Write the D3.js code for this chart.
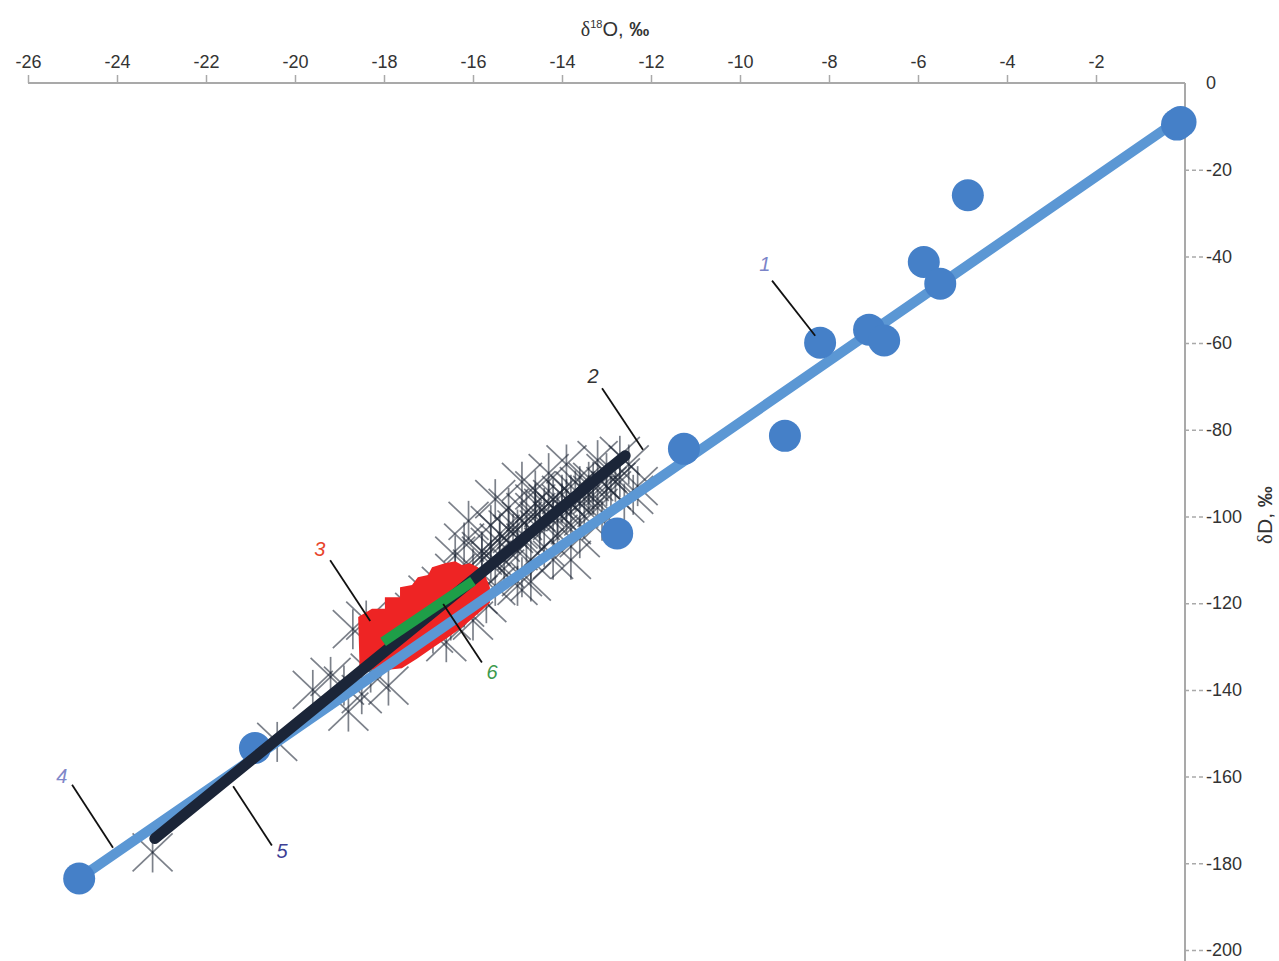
<!DOCTYPE html>
<html lang="en-US">
<head>
    <meta charset="utf-8">
    <script src="https://d3js.org/d3.v7.min.js"></script>
    <style>
        body { margin: 0; background: #fff; }
        .axis text { font-family: "Liberation Sans", Arial, sans-serif; font-size: 18px; fill: #333; }
        .axis path { stroke: #a9a9a9; stroke-width: 2; }
        .axis line { stroke: #a9a9a9; stroke-width: 1.5; }
        .axis--y line { stroke-dasharray: 4, 3; }
        .callout { font-family: "Liberation Sans", Arial, sans-serif; font-size: 20px; font-style: italic; }
    </style>
</head>
<body>
<div id="canvas"></div>
<script>
    // axis ticks
    var xTicks = [-26, -24, -22, -20, -18, -16, -14, -12, -10, -8, -6, -4, -2];
    var yTicks = [0, -20, -40, -60, -80, -100, -120, -140, -160, -180, -200];

    // 1: blue sample points (d18O, dD)
    var pts1 = [
        [-0.18, -9.6], [-0.1, -9.0], [-4.88, -25.9], [-5.87, -41.3], [-5.5, -46.3],
        [-7.1, -56.9], [-6.76, -59.4], [-8.2, -59.9], [-8.99, -81.4],
        [-11.26, -84.4], [-12.76, -103.9], [-20.9, -153.4], [-24.85, -183.5]
    ];

    // 4: regression line of series 1
    var line4 = [[-0.15, -8.5], [-24.85, -183.5]];

    // 2: cloud of points (asterisks)
    var pts2 = [
        [-23.2, -177.5], [-20.4, -152], [-19.6, -140], [-19.2, -137], [-18.9, -139],
        [-18.8, -145], [-18.5, -141], [-18.3, -136], [-17.9, -139], [-18.7, -126],
        [-18.4, -124], [-18.1, -130], [-17.6, -126], [-17.3, -122], [-17.0, -118],
        [-16.7, -116], [-16.4, -113], [-16.9, -127], [-16.5, -124], [-16.2, -121],
        [-15.9, -118], [-16.6, -129], [-16.0, -124], [-15.7, -120], [-15.5, -116],
        [-16.0, -112], [-15.8, -108], [-15.6, -110], [-15.4, -106], [-15.3, -112],
        [-15.1, -104], [-15.0, -108], [-14.9, -101], [-14.8, -106], [-14.7, -110],
        [-14.6, -99], [-14.5, -103], [-14.4, -107], [-14.3, -97], [-14.2, -101],
        [-14.1, -104], [-14.0, -95], [-13.9, -99], [-13.8, -102], [-13.7, -94],
        [-13.6, -97], [-13.5, -100], [-13.4, -92], [-13.3, -95], [-13.2, -98],
        [-13.0, -90], [-12.9, -94], [-12.7, -91], [-12.5, -88], [-12.4, -95],
        [-15.2, -98], [-14.6, -94], [-15.6, -102], [-16.2, -106], [-13.6, -105],
        [-14.9, -114], [-14.2, -110], [-13.1, -101], [-12.6, -97], [-16.4, -109],
        [-15.0, -116], [-14.9, -92], [-14.3, -90], [-13.9, -88], [-13.2, -87],
        [-12.7, -86], [-15.5, -96], [-16.1, -101], [-14.7, -115], [-13.8, -110],
        [-12.3, -93], [-15.2, -103], [-15.0, -103], [-14.8, -99], [-14.6, -97],
        [-14.4, -98], [-14.2, -96], [-14.0, -97], [-13.8, -95], [-13.6, -93],
        [-13.4, -95], [-15.4, -104], [-15.6, -107], [-15.8, -109], [-14.5, -101],
        [-14.1, -99], [-13.9, -96], [-13.3, -92], [-13.0, -93], [-12.8, -92]
    ];

    // 5: regression line of series 2
    var line5 = [[-23.15, -174.3], [-12.58, -86.0]];

    // 3: field outline
    var field3 = [
        [-18.55, -134.6], [-18.58, -123.2], [-18.27, -121.3], [-17.98, -121.3], [-17.98, -118.6],
        [-17.64, -118.6], [-17.64, -116.3], [-17.37, -115.8], [-17.24, -114.0], [-17.01, -113.5],
        [-16.92, -111.7], [-16.63, -110.8], [-16.40, -110.3], [-16.25, -111.2], [-16.07, -110.8],
        [-15.89, -111.7], [-15.73, -113.5], [-15.62, -116.3], [-15.62, -119.9], [-15.80, -121.6],
        [-16.02, -123.6], [-16.25, -125.6], [-16.58, -128.0], [-16.92, -130.4], [-17.26, -132.8],
        [-17.60, -135.0], [-17.95, -135.4], [-18.27, -135.3]
    ];

    // 6: line
    var line6 = [[-18.02, -128.9], [-16.0, -114.9]];

    // callout labels: text, label position, leader start, leader end
    var calloutText = ["1", "2", "3", "6", "4", "5"];
    var calloutPos = [[-9.44, -41.7], [-13.30, -67.7], [-19.44, -107.6], [-15.57, -135.8], [-25.24, -159.9], [-20.29, -177.1]];
    var leaderFrom = [[-9.28, -45.6], [-13.10, -70.4], [-19.21, -110.1], [-15.80, -133.7], [-25.01, -161.9], [-20.52, -175.9]];
    var leaderTo = [[-8.31, -58.3], [-12.18, -84.6], [-18.31, -124.1], [-16.67, -120.2], [-24.09, -176.4], [-21.39, -162.2]];
    var calloutColor = ["#7b84c8", "#333333", "#e8452c", "#3c9a4c", "#7f87c9", "#3d3f94"];

    var svg = d3.select("#canvas")
        .append("svg")
        .attr("width", 1279)
        .attr("height", 961);

    var x = d3.scaleLinear().domain([-26, 0]).range([28, 1185]);
    var y = d3.scaleLinear().domain([0, -200]).range([83, 950]);

    // axes
    svg.append("g")
        .attr("class", "axis axis--x")
        .attr("transform", "translate(0,83)")
        .call(d3.axisTop(x).tickValues(xTicks).tickFormat(function (d) { return String(d); })
            .tickSize(8).tickSizeOuter(0).tickPadding(7))
        .call(function (g) { g.select(".domain").attr("d", "M28,0H1185"); });

    svg.append("g")
        .attr("class", "axis axis--y")
        .attr("transform", "translate(1185,0)")
        .call(d3.axisRight(y).tickValues(yTicks).tickFormat(function (d) { return String(d); })
            .tickSize(18).tickSizeOuter(0).tickPadding(3))
        .call(function (g) {
            g.select(".domain").attr("d", "M0,83V961");
            g.selectAll(".tick").filter(function (d) { return d === 0; }).select("line").remove();
        });

    svg.append("text")
        .attr("x", 615)
        .attr("y", 36)
        .attr("text-anchor", "middle")
        .style("font-family", "'Liberation Sans', Arial, sans-serif")
        .style("font-size", "20px")
        .style("fill", "#333")
        .call(function (t) {
            t.append("tspan").style("font-family", "'Liberation Serif', serif").text("δ");
            t.append("tspan").attr("dy", -8).style("font-size", "11px").text("18");
            t.append("tspan").attr("dy", 8).text("O, ");
            t.append("tspan").style("font-weight", "bold").text("‰");
        });

    svg.append("text")
        .attr("transform", "translate(1272,515) rotate(-90)")
        .attr("text-anchor", "middle")
        .style("font-family", "'Liberation Sans', Arial, sans-serif")
        .style("font-size", "21px")
        .style("fill", "#333")
        .call(function (t) {
            t.append("tspan").style("font-family", "'Liberation Serif', serif").text("δ");
            t.append("tspan").text("D, ");
            t.append("tspan").style("font-weight", "bold").text("‰");
        });

    var line = d3.line().x(function (d) { return x(d[0]); }).y(function (d) { return y(d[1]); });

    // series 2 asterisks
    var star = svg.append("g").selectAll("g")
        .data(pts2)
        .enter().append("g")
        .attr("transform", function (d) { return "translate(" + x(d[0]) + "," + y(d[1]) + ")"; })
        .style("stroke", "#1e2636")
        .style("stroke-opacity", 0.58)
        .style("stroke-width", 1.7);
    star.append("line").attr("x1", 0).attr("y1", -20).attr("x2", 0).attr("y2", 20);
    star.append("line").attr("x1", -20).attr("y1", -19).attr("x2", 20).attr("y2", 19);
    star.append("line").attr("x1", -20).attr("y1", 19).attr("x2", 20).attr("y2", -19);

    // field 3
    svg.append("path")
        .datum(field3)
        .attr("d", line.curve(d3.curveLinearClosed))
        .attr("fill", "#ee2424");
    line.curve(d3.curveLinear);

    // line 4
    svg.append("path")
        .datum(line4)
        .attr("d", line)
        .attr("fill", "none")
        .attr("stroke", "#5b97d4")
        .attr("stroke-width", 10)
        .attr("stroke-linecap", "round");

    // series 1 circles
    svg.append("g").selectAll("circle")
        .data(pts1)
        .enter().append("circle")
        .attr("cx", function (d) { return x(d[0]); })
        .attr("cy", function (d) { return y(d[1]); })
        .attr("r", 16)
        .attr("fill", "#4580c8");

    // line 5
    svg.append("path")
        .datum(line5)
        .attr("d", line)
        .attr("fill", "none")
        .attr("stroke", "#1b2538")
        .attr("stroke-width", 11)
        .attr("stroke-linecap", "round");

    // line 6
    svg.append("path")
        .datum(line6)
        .attr("d", line)
        .attr("fill", "none")
        .attr("stroke", "#1e9e48")
        .attr("stroke-width", 10);

    // callouts
    var co = svg.append("g").selectAll("g")
        .data(calloutText)
        .enter().append("g");
    co.append("line")
        .attr("x1", function (d, i) { return x(leaderFrom[i][0]); })
        .attr("y1", function (d, i) { return y(leaderFrom[i][1]); })
        .attr("x2", function (d, i) { return x(leaderTo[i][0]); })
        .attr("y2", function (d, i) { return y(leaderTo[i][1]); })
        .attr("stroke", "#111")
        .attr("stroke-width", 1.8);
    co.append("text")
        .attr("class", "callout")
        .attr("x", function (d, i) { return x(calloutPos[i][0]); })
        .attr("y", function (d, i) { return y(calloutPos[i][1]); })
        .attr("text-anchor", "middle")
        .attr("dominant-baseline", "central")
        .style("fill", function (d, i) { return calloutColor[i]; })
        .text(function (d) { return d; });
</script>
</body>
</html>
